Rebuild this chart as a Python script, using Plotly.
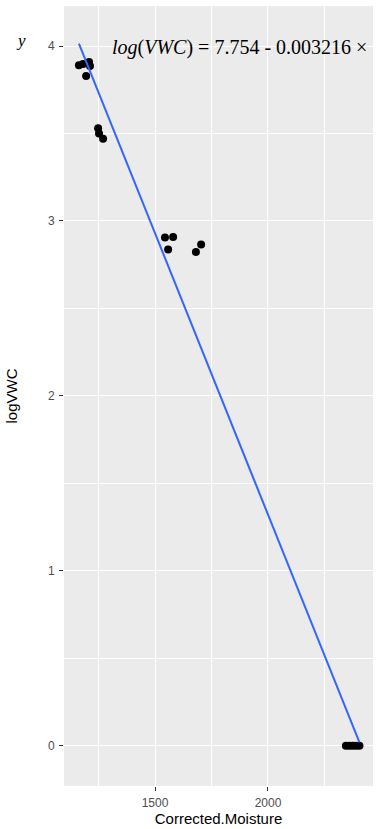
import plotly.graph_objects as go

# Observations
moisture = [1163, 1181, 1208, 1212, 1195,
            1248, 1252, 1270,
            1544, 1580, 1558, 1704, 1681,
            2345, 2360, 2375, 2390, 2405]
log_vwc = [3.89, 3.897, 3.909, 3.886, 3.829,
           3.53, 3.50, 3.47,
           2.906, 2.909, 2.837, 2.866, 2.823,
           0.0, 0.0, 0.0, 0.0, 0.0]

# Linear fit: log(VWC) = a + b * Corrected.Moisture
intercept = 7.754
slope = -0.003216

x_fit = [min(moisture), max(moisture)]
y_fit = [intercept + slope * v for v in x_fit]

fig = go.Figure()

fig.add_trace(go.Scatter(
    x=moisture, y=log_vwc, mode="markers",
    marker=dict(color="black", size=8, line=dict(width=0)),
    showlegend=False, hoverinfo="skip",
))

fig.add_trace(go.Scatter(
    x=x_fit, y=y_fit, mode="lines",
    line=dict(color="#3366FF", width=2),
    showlegend=False, hoverinfo="skip",
))

eq_text = "<i>log</i>(<i>VWC</i>) = %.3f - %.6f ×" % (intercept, -slope)

fig.add_annotation(
    x=1301, y=3.99, xref="x", yref="y",
    text=eq_text, showarrow=False,
    xanchor="left", yanchor="middle",
    font=dict(family="Liberation Serif", size=20, color="black"),
)

fig.add_annotation(
    x=-0.14, y=4.03, xref="paper", yref="y",
    text="<i>y</i>", showarrow=False,
    xanchor="center", yanchor="middle",
    font=dict(family="Liberation Serif", size=17, color="black"),
)

axis_common = dict(
    showgrid=True, gridcolor="white", gridwidth=1.1,
    zeroline=False, showline=False,
    ticks="outside", ticklen=4, tickwidth=1, tickcolor="#333333",
    ticklabelstandoff=2,
    tickfont=dict(family="Liberation Sans", size=12, color="#4D4D4D"),
)

fig.update_layout(
    width=376, height=829,
    margin=dict(l=64, r=3, t=6, b=43),
    paper_bgcolor="white", plot_bgcolor="#EBEBEB",
    xaxis=dict(
        range=[1097, 2465], tickmode="array", tickvals=[1500, 2000],
        minor=dict(tickmode="array", tickvals=[1250, 1750, 2250],
                   showgrid=True, gridcolor="white", gridwidth=0.5, ticks=""),
        title=dict(text="Corrected.Moisture", standoff=2,
                   font=dict(family="Liberation Sans", size=15, color="black")),
        **axis_common,
    ),
    yaxis=dict(
        range=[-0.23, 4.229], tickmode="array", tickvals=[0, 1, 2, 3, 4],
        minor=dict(tickmode="array", tickvals=[0.5, 1.5, 2.5, 3.5],
                   showgrid=True, gridcolor="white", gridwidth=0.5, ticks=""),
        title=dict(text="logVWC", standoff=26,
                   font=dict(family="Liberation Sans", size=15, color="black")),
        **axis_common,
    ),
)

fig.write_html("out.html")
